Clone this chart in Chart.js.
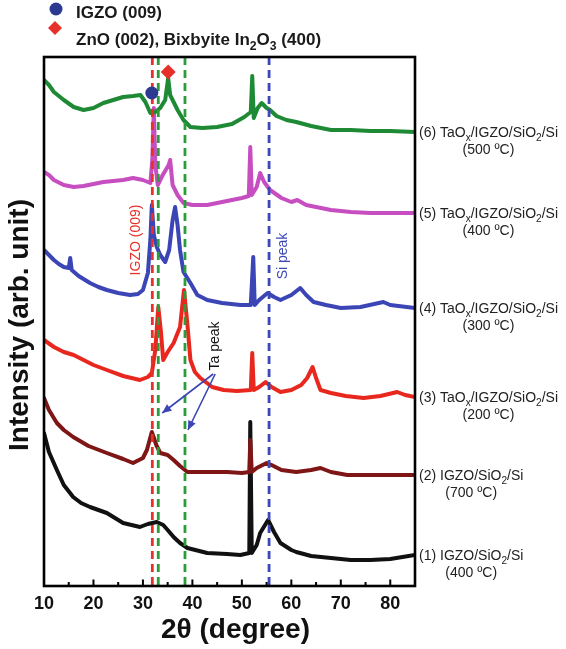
<!DOCTYPE html>
<html>
<head>
<meta charset="utf-8">
<script src="https://cdn.jsdelivr.net/npm/chart.js@4.4.1/dist/chart.umd.min.js"></script>
<style>
html,body{margin:0;padding:0;background:#fff;}
canvas{display:block;}
</style>
</head>
<body>
<canvas id="c" width="566" height="649"></canvas>
<script>
// ---------- DATA ----------
const xTickLabels = [10, 20, 30, 40, 50, 60, 70, 80];

// (6) TaOx/IGZO/SiO2/Si (500 ºC)
const deg6 = [10,11,12,14,16,18,20,22,24,26,28,29.5,30.5,31.5,32.5,33.5,34.5,35.1,35.5,36.2,37,38.2,39.6,42,45,48,50.5,51.8,52.1,52.4,53.2,54,55,55.7,57,59,61,64,68,72,76,80,85];
const int6 = [506,501,494,486,479,476,478,483,486,489,490,491,484,473,474,478,486,508,491,484,476,466,459,458,459,462,469,474,510,468,478,483,478,476,470,466,464,460,456,456,455,455,454];

// (5) TaOx/IGZO/SiO2/Si (400 ºC)
const deg5 = [10,11,12,14,16,18,20,22,24,26,28,30,31.5,31.9,32.2,32.5,33,34,35.2,35.5,36,37,38.2,40,43,47,50,51.4,51.7,52,53,53.7,54.5,55.7,58,60,61.2,63,66,68,72,76,80,85];
const int5 = [414,411,406,401,399,400,402,404,405,406,408,406,403,426,478,421,401,411,421,426,401,391,383,381,381,385,388,390,439,391,399,413,404,396,388,384,386,381,378,376,374,373,373,373];

// (4) TaOx/IGZO/SiO2/Si (300 ºC)
const deg4 = [10,11,12,13,14,15,15.3,15.6,17,19.3,21,22.7,25,27.4,29,30,31,31.5,31.8,32.2,32.8,33.5,34.5,35.3,36,36.5,37,37.5,38.2,39.6,41,43,46,49.7,51.8,52.3,52.6,53.5,55.2,56.5,57.8,60,61.8,63,64.5,67,70,74,78.6,80,85];
const int4 = [336,331,326,322,319,318,328,316,310,303,299,296,293,291,292,296,313,346,381,351,339,331,324,336,366,379,361,336,314,303,291,286,283,281,281,329,281,286,293,289,286,291,298,291,284,281,278,279,284,281,278];

// (3) TaOx/IGZO/SiO2/Si (200 ºC)
const deg3 = [10,12,14,16,18,20,22.7,26,29.4,31,31.8,32.5,33.1,33.6,34.1,35,36.2,37.5,38.3,39,39.6,40.5,41.6,44,46.3,49,51.8,52.1,52.4,53.5,54.8,56,57.8,60,62,63.2,64.3,65,65.9,68,71,74.6,78,81.4,83,85];
const int3 = [246,239,234,231,226,221,216,210,206,209,213,236,279,256,226,234,243,259,296,261,226,214,208,199,196,195,196,233,196,199,204,199,194,196,201,208,219,208,196,193,190,188,190,194,191,189];

// (2) IGZO/SiO2/Si (700 ºC)
const deg2 = [10,11,12.6,14,15.9,19,22.7,26,28,30,30.8,31.8,32.7,33.5,35,36.2,37.5,39,43,47,50,51.5,51.7,52,53,55,56,58,61,64,65.9,68,71.3,75,80,85];
const int2 = [188,176,163,156,149,140,133,127,123,128,136,154,141,133,131,126,120,114,114,114,113,114,146,114,118,123,121,116,114,116,118,114,111,111,111,111];

// (1) IGZO/SiO2/Si (400 ºC)
const deg1 = [10,11,12.6,14,15.9,17.5,19.3,22.7,26,29.4,31,32.8,34.1,35,36.2,37.5,39,43,47,49.7,51.5,51.7,52,53,53.7,55.3,56.5,57.8,60,61,64,68,72,76,80,85];
const int1 = [153,134,116,101,89,83,79,73,63,59,62,64,61,56,49,43,38,33,32,31,33,164,33,41,53,66,54,43,36,34,30,28,26,26,27,31];

// peak markers (IGZO (009) circle, ZnO/In2O3 diamond)
const markerDeg = [31.8, 35.1];
const markerInt = [493, 514];

// reference lines (2θ)
const refDeg = [31.9, 33.1, 38.5, 55.5];
const refColors = ['#e8302a', '#2a9d3a', '#2a9d3a', '#3c48b8'];

const seriesNames = [
  [['(1) IGZO/SiO'],['2',1],['/Si']],
  [['(2) IGZO/SiO'],['2',1],['/Si']],
  [['(3) TaO'],['x',1],['/IGZO/SiO'],['2',1],['/Si']],
  [['(4) TaO'],['x',1],['/IGZO/SiO'],['2',1],['/Si']],
  [['(5) TaO'],['x',1],['/IGZO/SiO'],['2',1],['/Si']],
  [['(6) TaO'],['x',1],['/IGZO/SiO'],['2',1],['/Si']]
];
const seriesTemps = ['(400 ºC)', '(700 ºC)', '(200 ºC)', '(300 ºC)', '(400 ºC)', '(500 ºC)'];
const seriesColors = ['#111111', '#7e1616', '#e8281e', '#3b45b5', '#c64ec0', '#1e8a35'];

// ---------- BUILD ----------
const FONT = '"Liberation Sans", Arial, Helvetica, sans-serif';
const zip = (xs, ys) => xs.map((x, i) => ({x: x, y: ys[i]}));
const allDeg = [deg1, deg2, deg3, deg4, deg5, deg6];
const allInt = [int1, int2, int3, int4, int5, int6];

const curveSets = [];
for (let k = 5; k >= 0; k--) {
  curveSets.push({
    data: zip(allDeg[k], allInt[k]),
    showLine: true, borderColor: seriesColors[k], backgroundColor: seriesColors[k],
    borderWidth: 4, borderJoinStyle: 'round', borderCapStyle: 'round',
    pointRadius: 0, tension: 0, fill: false
  });
}
const markerSet = {
  data: zip(markerDeg, markerInt),
  showLine: false,
  pointStyle: ['circle', 'rectRot'],
  pointRadius: [6.5, 7.5],
  pointBackgroundColor: ['#2b3990', '#e8302a'],
  pointBorderColor: ['#2b3990', '#e8302a'],
  pointBorderWidth: 0
};
const datasets = [markerSet].concat(curveSets);

function drawRich(ctx, segs, x, y, size, align) {
  let w = 0;
  const sub = size * 0.72;
  segs.forEach(s => { ctx.font = (s[2] ? 'bold ' : '') + (s[1] ? sub : size) + 'px ' + FONT; w += ctx.measureText(s[0]).width; });
  let cx = align === 'center' ? x - w / 2 : x;
  ctx.textAlign = 'left';
  ctx.textBaseline = 'alphabetic';
  segs.forEach(s => {
    const f = s[1] ? sub : size;
    ctx.font = (s[2] ? 'bold ' : '') + f + 'px ' + FONT;
    ctx.fillText(s[0], cx, y + (s[1] ? size * 0.28 : 0));
    cx += ctx.measureText(s[0]).width;
  });
  return w;
}
function arrow(ctx, x1, y1, x2, y2) {
  ctx.beginPath(); ctx.moveTo(x1, y1); ctx.lineTo(x2, y2); ctx.stroke();
  const a = Math.atan2(y2 - y1, x2 - x1), L = 10, W = 0.42;
  ctx.beginPath();
  ctx.moveTo(x2, y2);
  ctx.lineTo(x2 - L * Math.cos(a - W), y2 - L * Math.sin(a - W));
  ctx.lineTo(x2 - L * Math.cos(a + W), y2 - L * Math.sin(a + W));
  ctx.closePath(); ctx.fill();
}

const decor = {
  id: 'decor',
  beforeDatasetDraw(chart, args) {
    if (args.index !== 0) return;
    const ctx = chart.ctx, xs = chart.scales.x, a = chart.chartArea;
    ctx.save();
    ctx.lineWidth = 2.8;
    ctx.setLineDash([8, 5]);
    refDeg.forEach((d, i) => {
      const px = xs.getPixelForValue(d);
      ctx.strokeStyle = refColors[i];
      ctx.beginPath(); ctx.moveTo(px, a.top); ctx.lineTo(px, a.bottom); ctx.stroke();
    });
    ctx.restore();
  },
  afterDraw(chart) {
    const ctx = chart.ctx, xs = chart.scales.x, ys = chart.scales.y, a = chart.chartArea;
    ctx.save();
    ctx.strokeStyle = '#000'; ctx.lineWidth = 2.6; ctx.setLineDash([]);
    ctx.strokeRect(a.left, a.top, a.right - a.left, a.bottom - a.top);
    ctx.lineWidth = 2;
    for (let v = 15; v < 85; v += 5) {
      const px = xs.getPixelForValue(v);
      const len = v % 10 === 0 ? 6.5 : 4;
      ctx.beginPath(); ctx.moveTo(px, a.bottom); ctx.lineTo(px, a.bottom - len); ctx.stroke();
    }
    ctx.fillStyle = '#111';
    ctx.font = 'bold 28px ' + FONT;
    ctx.textAlign = 'center'; ctx.textBaseline = 'middle';
    ctx.fillText('2θ (degree)', (a.left + a.right) / 2 + 6, 630);
    ctx.save();
    ctx.translate(20, 325); ctx.rotate(-Math.PI / 2);
    ctx.fillText('Intensity (arb. unit)', 0, 0);
    ctx.restore();
    ctx.fillStyle = '#2b3990';
    ctx.beginPath(); ctx.arc(56, 9, 6.5, 0, Math.PI * 2); ctx.fill();
    ctx.fillStyle = '#e8302a';
    ctx.beginPath(); ctx.moveTo(55, 21); ctx.lineTo(62, 28); ctx.lineTo(55, 35); ctx.lineTo(48, 28); ctx.closePath(); ctx.fill();
    ctx.fillStyle = '#1a1a1a';
    ctx.font = 'bold 17px ' + FONT; ctx.textAlign = 'left'; ctx.textBaseline = 'middle';
    ctx.fillText('IGZO (009)', 76, 13);
    drawRich(ctx, [['ZnO (002), Bixbyite In', 0, 1], ['2', 1, 1], ['O', 0, 1], ['3', 1, 1], [' (400)', 0, 1]], 76, 45, 17, 'left');
    const rot = (txt, color, dx, dv) => {
      ctx.save();
      ctx.fillStyle = color; ctx.font = '14px ' + FONT; ctx.textAlign = 'center'; ctx.textBaseline = 'middle';
      ctx.translate(xs.getPixelForValue(dx), ys.getPixelForValue(dv)); ctx.rotate(-Math.PI / 2);
      ctx.fillText(txt, 0, 0); ctx.restore();
    };
    rot('IGZO (009)', '#e8302a', 28.7, 346);
    rot('Si peak', '#3c48b8', 58.3, 330);
    rot('Ta peak', '#111', 44.6, 240);
    ctx.strokeStyle = '#3b45b5'; ctx.fillStyle = '#3b45b5'; ctx.lineWidth = 1.6;
    const sx = xs.getPixelForValue(44.2), sy = ys.getPixelForValue(212);
    arrow(ctx, sx, sy, xs.getPixelForValue(33.9), ys.getPixelForValue(173));
    arrow(ctx, sx + 2, sy, xs.getPixelForValue(39.1), ys.getPixelForValue(156));
    ctx.fillStyle = '#222';
    for (let k = 0; k < 6; k++) {
      const last = allInt[k][allInt[k].length - 1];
      const py = ys.getPixelForValue(last) + 5;
      const x0 = a.right + 4;
      const w = drawRich(ctx, seriesNames[k], x0, py, 14, 'left');
      ctx.font = '14px ' + FONT; ctx.textAlign = 'center'; ctx.textBaseline = 'alphabetic';
      ctx.fillText(seriesTemps[k], x0 + w / 2, py + 17);
    }
    ctx.restore();
  }
};

new Chart(document.getElementById('c'), {
  type: 'scatter',
  data: { datasets: datasets },
  options: {
    responsive: false,
    animation: false,
    events: [],
    layout: { padding: { top: 57, right: 151, left: 0, bottom: 0 } },
    plugins: { legend: { display: false }, tooltip: { enabled: false } },
    scales: {
      x: {
        type: 'linear', min: 10, max: 85,
        grid: { display: false, drawTicks: false },
        border: { display: false },
        ticks: { font: { family: FONT, size: 18, weight: 'bold' }, color: '#111', padding: 7, maxRotation: 0, autoSkip: false },
        afterBuildTicks: s => { s.ticks = xTickLabels.map(v => ({ value: v })); },
        afterFit: s => { s.height = 63; }
      },
      y: {
        type: 'linear', min: 0, max: 529,
        grid: { display: false, drawTicks: false },
        border: { display: false },
        ticks: { display: false },
        afterFit: s => { s.width = 44; }
      }
    }
  },
  plugins: [decor]
});
</script>
</body>
</html>
